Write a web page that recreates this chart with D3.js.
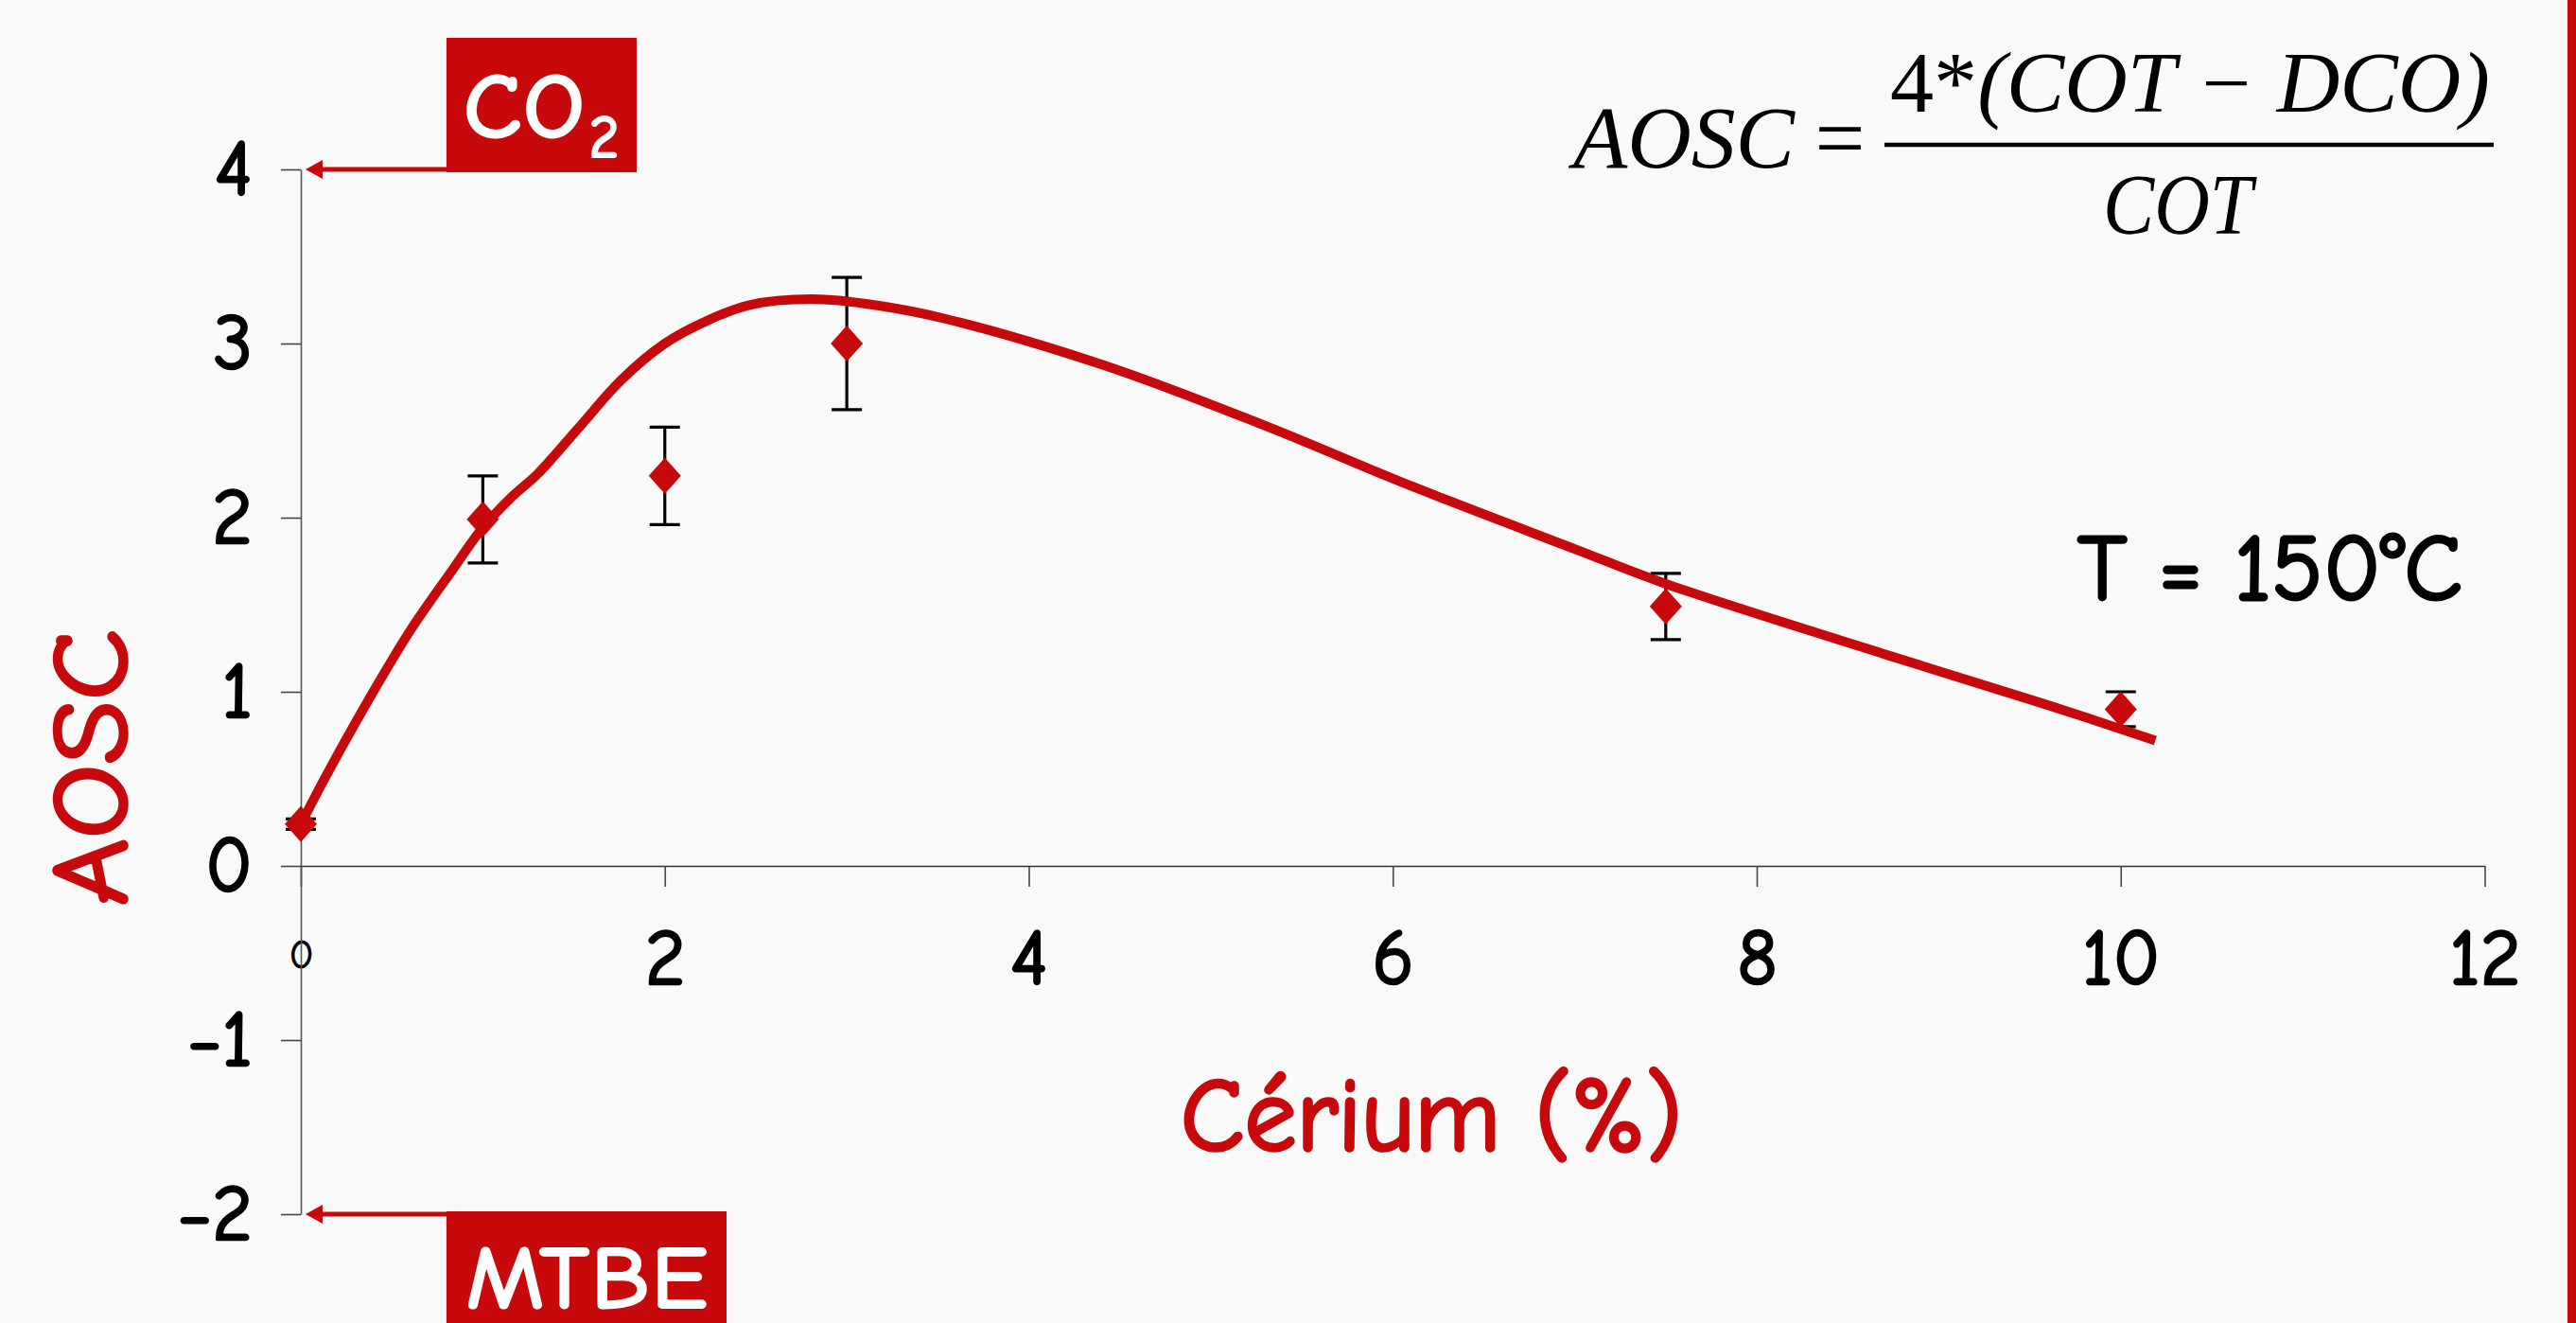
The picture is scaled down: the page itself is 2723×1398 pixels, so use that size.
<!DOCTYPE html>
<html>
<head>
<meta charset="utf-8">
<script src="https://cdn.jsdelivr.net/npm/d3@7"></script>
<style>
  html, body { margin: 0; padding: 0; background: #f9f9f9; }
  svg { display: block; }
</style>
</head>
<body>
<svg id="chart" width="2723" height="1398"></svg>
<script>
// ---------- data ----------
const ceriumPct   = [0, 1, 2, 3, 7.5, 10];
const aoscValues  = [0.24, 1.99, 2.24, 3.0, 1.49, 0.90];
const aoscErrors  = [0.03, 0.25, 0.28, 0.38, 0.19, 0.10];

const fitX = [0, 0.14, 0.37, 0.60, 0.84, 0.99, 1.16, 1.30, 1.53, 1.76, 2.0, 2.23, 2.46, 2.81, 3.16, 3.55, 4.41, 5.27, 6.13, 7.0, 7.5, 8.72, 9.58, 10.19];
const fitY = [0.24, 0.52, 0.95, 1.35, 1.71, 1.93, 2.12, 2.25, 2.52, 2.79, 3.0, 3.13, 3.22, 3.255, 3.22, 3.14, 2.876, 2.54, 2.17, 1.82, 1.62, 1.21, 0.93, 0.72];

const xTicks = [0, 2, 4, 6, 8, 10, 12];
const yTicks = [-2, -1, 0, 1, 2, 3, 4];

const xTitle = "Cérium (%)";
const yTitle = "AOSC";
const tempLabel = "T = 150°C";
const topLabel = "CO";
const topLabelSub = "2";
const bottomLabel = "MTBE";

// ---------- setup ----------
const RED = "#c8090c";
const COMIC = "'Comic Sans MS','Comic Neue','DejaVu Sans',sans-serif";
const SERIF = "'Liberation Serif','Times New Roman',serif";

const svg = d3.select("#chart");
const W = 2723, H = 1398;

svg.append("rect").attr("x", 0).attr("y", 0).attr("width", W).attr("height", H).attr("fill", "#f9f9f9");
svg.append("rect").attr("x", 2714).attr("y", 0).attr("width", 9).attr("height", H).attr("fill", RED);

const x = d3.scaleLinear().domain([0, 12]).range([318, 2626.5]);
const y = d3.scaleLinear().domain([-2, 4]).range([1283, 179]);

// ---------- axes ----------
const xAxis = svg.append("g")
  .attr("transform", `translate(0,${y(0)})`)
  .call(d3.axisBottom(x).tickValues(xTicks).tickSizeInner(22).tickSizeOuter(0).tickPadding(45).tickFormat(d3.format("d")));
xAxis.select(".domain").attr("stroke", "#333").attr("stroke-width", 1.6);
xAxis.selectAll(".tick line").attr("stroke", "#444").attr("stroke-width", 1.6);
xAxis.selectAll(".tick text")
  .attr("font-family", COMIC).attr("font-size", 82).attr("fill", "#000")
  .attr("stroke", "#000").attr("stroke-width", 2.6).attr("stroke-linejoin", "round");
xAxis.selectAll(".tick text").filter(d => d === 0)
  .attr("font-size", 43).attr("y", 77).attr("stroke-width", 0.8);

const yAxis = svg.append("g")
  .attr("transform", `translate(${x(0)},0)`)
  .call(d3.axisLeft(y).tickValues(yTicks).tickSizeInner(21).tickSizeOuter(0).tickPadding(30).tickFormat(d3.format("d")));
yAxis.select(".domain").attr("stroke", "#555").attr("stroke-width", 1.6);
yAxis.selectAll(".tick line").attr("stroke", "#444").attr("stroke-width", 1.6);
yAxis.selectAll(".tick text")
  .attr("font-family", COMIC).attr("font-size", 82).attr("fill", "#000")
  .attr("stroke", "#000").attr("stroke-width", 2.6).attr("stroke-linejoin", "round");

// ---------- axis titles ----------
svg.append("text")
  .attr("transform", `translate(133,${(y(4) + y(-2)) / 2 + 80}) rotate(-90)`)
  .attr("text-anchor", "middle")
  .attr("font-family", COMIC).attr("font-size", 112).attr("fill", RED)
  .attr("stroke", RED).attr("stroke-width", 3.5).attr("stroke-linejoin", "round")
  .attr("textLength", 292).attr("lengthAdjust", "spacingAndGlyphs")
  .text(yTitle);

svg.append("text")
  .attr("x", 1513).attr("y", 1215)
  .attr("text-anchor", "middle")
  .attr("font-family", COMIC).attr("font-size", 110).attr("fill", RED)
  .attr("stroke", RED).attr("stroke-width", 3.5).attr("stroke-linejoin", "round")
  .attr("textLength", 530).attr("lengthAdjust", "spacingAndGlyphs")
  .text(xTitle);

// ---------- error bars & markers ----------
const pts = ceriumPct.map((c, i) => ({ x: c, y: aoscValues[i], e: aoscErrors[i] }));
const capW = 16;
const eb = svg.append("g").attr("stroke", "#000").attr("stroke-width", 3.2).attr("fill", "none");
pts.forEach(p => {
  eb.append("line").attr("x1", x(p.x)).attr("x2", x(p.x)).attr("y1", y(p.y + p.e)).attr("y2", y(p.y - p.e));
  eb.append("line").attr("x1", x(p.x) - capW).attr("x2", x(p.x) + capW).attr("y1", y(p.y + p.e)).attr("y2", y(p.y + p.e));
  eb.append("line").attr("x1", x(p.x) - capW).attr("x2", x(p.x) + capW).attr("y1", y(p.y - p.e)).attr("y2", y(p.y - p.e));
});

const diamondWide = {
  draw(ctx, size) {
    const w = 17, h = 19;
    ctx.moveTo(0, -h); ctx.lineTo(w, 0); ctx.lineTo(0, h); ctx.lineTo(-w, 0); ctx.closePath();
  }
};
svg.append("g").selectAll("path").data(pts).join("path")
  .attr("d", d3.symbol().type(diamondWide).size(100))
  .attr("transform", d => `translate(${x(d.x)},${y(d.y)})`)
  .attr("fill", RED);

// ---------- fitted curve ----------
const fit = fitX.map((v, i) => [v, fitY[i]]);
svg.append("path")
  .datum(fit)
  .attr("fill", "none").attr("stroke", RED).attr("stroke-width", 10).attr("stroke-linecap", "butt")
  .attr("d", d3.line().x(d => x(d[0])).y(d => y(d[1])).curve(d3.curveCatmullRom.alpha(0.5)));

// ---------- annotations CO2 / MTBE ----------
function arrow(yv) {
  const yy = y(yv);
  const tip = x(0) + 5;
  svg.append("line").attr("x1", tip + 12).attr("x2", 472).attr("y1", yy).attr("y2", yy)
    .attr("stroke", RED).attr("stroke-width", 5);
  svg.append("path")
    .attr("d", `M${tip},${yy} L${tip + 18},${yy - 10} L${tip + 18},${yy + 10} Z`)
    .attr("fill", RED);
}
arrow(4);
arrow(-2);

svg.append("rect").attr("x", 472).attr("y", 40).attr("width", 201).attr("height", y(4) + 3 - 40).attr("fill", RED);
const co2 = svg.append("text").attr("x", 489).attr("y", 146)
  .attr("font-family", COMIC).attr("font-weight", "bold").attr("fill", "#fff");
co2.append("tspan").attr("font-size", 100).attr("textLength", 130).attr("lengthAdjust", "spacingAndGlyphs").text(topLabel);
co2.append("tspan").attr("x", 622).attr("y", 167).attr("font-size", 66).text(topLabelSub);

svg.append("rect").attr("x", 472).attr("y", y(-2) - 3).attr("width", 296).attr("height", H - y(-2) + 3).attr("fill", RED);
svg.append("text").attr("x", 492).attr("y", 1383)
  .attr("font-family", COMIC).attr("font-weight", "bold").attr("font-size", 98).attr("fill", "#fff")
  .attr("textLength", 257).attr("lengthAdjust", "spacingAndGlyphs")
  .text(bottomLabel);

// ---------- temperature label ----------
svg.append("text").attr("x", 2196).attr("y", 634)
  .attr("font-family", COMIC).attr("font-size", 100).attr("fill", "#000")
  .attr("stroke", "#000").attr("stroke-width", 3).attr("stroke-linejoin", "round")
  .attr("textLength", 407).attr("lengthAdjust", "spacingAndGlyphs")
  .text(tempLabel);

// ---------- formula ----------
const f = svg.append("g").attr("font-family", SERIF).attr("fill", "#000");
f.append("text").attr("x", 1663).attr("y", 177).attr("font-size", 94).attr("font-style", "italic")
  .attr("textLength", 234).attr("lengthAdjust", "spacingAndGlyphs").text("AOSC");
f.append("text").attr("x", 1945).attr("y", 177).attr("font-size", 94).attr("text-anchor", "middle").text("=");
f.append("line").attr("x1", 1992).attr("x2", 2636).attr("y1", 153).attr("y2", 153)
  .attr("stroke", "#000").attr("stroke-width", 4.5);
const num = f.append("text").attr("x", 1998).attr("y", 118).attr("font-size", 90)
  .attr("textLength", 634).attr("lengthAdjust", "spacingAndGlyphs");
num.append("tspan").text("4*");
num.append("tspan").attr("font-style", "italic").text("(COT − DCO)");
f.append("text").attr("x", 2223).attr("y", 247).attr("font-size", 90).attr("font-style", "italic")
  .attr("textLength", 158).attr("lengthAdjust", "spacingAndGlyphs").text("COT");
</script>
</body>
</html>
